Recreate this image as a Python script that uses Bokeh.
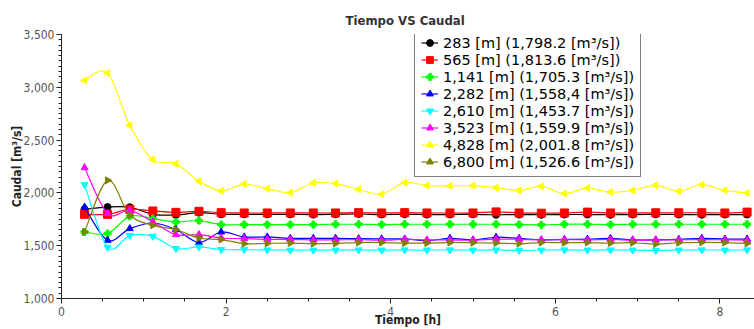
import numpy as np
from bokeh.plotting import figure
from bokeh.models import (Range1d, SingleIntervalTicker, NumeralTickFormatter,
                          Legend, LegendItem)
from bokeh.embed import file_html
from bokeh.resources import INLINE

# ---------------- data ----------------
tiempo_h = [0.28, 0.56, 0.83, 1.11, 1.39, 1.67, 1.94, 2.22, 2.50, 2.78,
            3.06, 3.33, 3.61, 3.89, 4.17, 4.44, 4.72, 5.00, 5.28, 5.56,
            5.83, 6.11, 6.39, 6.67, 6.94, 7.22, 7.50, 7.78, 8.06, 8.33]

caudal_283 = [1845, 1866, 1864, 1797, 1791, 1813, 1797, 1797, 1797, 1797,
              1795, 1797, 1800, 1795, 1797, 1795, 1795, 1797, 1793, 1795,
              1793, 1795, 1795, 1793, 1795, 1797, 1795, 1793, 1795, 1795]
caudal_565 = [1797, 1797, 1845, 1829, 1816, 1826, 1813, 1810, 1810, 1810,
              1810, 1810, 1813, 1810, 1813, 1810, 1810, 1810, 1820, 1810,
              1808, 1810, 1818, 1810, 1810, 1812, 1812, 1812, 1810, 1818]
caudal_1141 = [1630, 1615, 1778, 1757, 1725, 1738, 1700, 1700, 1700, 1700,
               1700, 1703, 1703, 1700, 1703, 1703, 1703, 1703, 1703, 1700,
               1698, 1703, 1703, 1700, 1703, 1703, 1703, 1703, 1703, 1703]
caudal_2282 = [1866, 1551, 1662, 1715, 1653, 1530, 1630, 1583, 1583, 1570,
               1570, 1570, 1567, 1565, 1564, 1548, 1570, 1555, 1580, 1570,
               1555, 1560, 1562, 1570, 1555, 1555, 1560, 1570, 1563, 1563]
caudal_2610 = [2078, 1485, 1596, 1589, 1473, 1488, 1463, 1463, 1460, 1458,
               1458, 1458, 1460, 1458, 1460, 1458, 1460, 1458, 1460, 1456,
               1458, 1460, 1458, 1460, 1458, 1456, 1458, 1460, 1458, 1460]
caudal_3523 = [2239, 1804, 1835, 1725, 1605, 1605, 1573, 1567, 1560, 1560,
               1555, 1555, 1558, 1552, 1560, 1555, 1555, 1552, 1562, 1560,
               1555, 1558, 1555, 1560, 1552, 1555, 1555, 1558, 1555, 1552]
caudal_4828 = [3065, 3134, 2639, 2315, 2277, 2110, 2018, 2084, 2040, 2003,
               2094, 2088, 2034, 1987, 2097, 2069, 2066, 2069, 2050, 2024,
               2062, 1993, 2046, 2008, 2024, 2072, 2015, 2078, 2024, 1999]
caudal_6800 = [1630, 2119, 1788, 1693, 1653, 1573, 1558, 1520, 1522, 1525,
               1520, 1522, 1530, 1530, 1525, 1525, 1530, 1528, 1525, 1520,
               1530, 1528, 1530, 1525, 1528, 1515, 1528, 1532, 1530, 1522]

labels = ["283 [m] (1,798.2 [m³/s])",
          "565 [m] (1,813.6 [m³/s])",
          "1,141 [m] (1,705.3 [m³/s])",
          "2,282 [m] (1,558,4 [m³/s])",
          "2,610 [m] (1,453.7 [m³/s])",
          "3,523 [m] (1,559.9 [m³/s])",
          "4,828 [m] (2,001.8 [m³/s])",
          "6,800 [m] (1,526.6 [m³/s])"]
values = [caudal_283, caudal_565, caudal_1141, caudal_2282,
          caudal_2610, caudal_3523, caudal_4828, caudal_6800]
colors = ["#000000", "#ff0000", "#00ff00", "#0000ff",
          "#00ffff", "#ff00ff", "#ffff00", "#808000"]
markers = ["circle", "square", "plus", "triangle",
           "inverted_triangle", "triangle", "triangle", "triangle"]
angles = [0, 0, 0, 0, 0, 0, np.pi / 2, -np.pi / 2]
sizes = [7, 8, 7, 7, 7, 7, 7, 7]


def smooth_segments(xs, ys):
    """Catmull-Rom curve through the data points, as cubic Bezier segments."""
    x = np.asarray(xs, dtype=float)
    y = np.asarray(ys, dtype=float)
    xp = np.concatenate([[x[0]], x, [x[-1]]])
    yp = np.concatenate([[y[0]], y, [y[-1]]])
    x0, x1, x2, x3 = xp[:-3], xp[1:-2], xp[2:-1], xp[3:]
    y0, y1, y2, y3 = yp[:-3], yp[1:-2], yp[2:-1], yp[3:]
    return dict(x0=x1, y0=y1, x1=x2, y1=y2,
                cx0=x1 + (x2 - x0) / 6, cy0=y1 + (y2 - y0) / 6,
                cx1=x2 - (x3 - x1) / 6, cy1=y2 - (y3 - y1) / 6)


TICK_FONT = "DejaVu Sans Condensed"

p = figure(width=754, height=329, output_backend="svg", toolbar_location=None,
           x_range=Range1d(0, 8.42), y_range=Range1d(1000, 3500),
           min_border_left=61, min_border_right=0, min_border_top=34,
           min_border_bottom=30)

p.title.text = "Tiempo VS Caudal"
p.title.text_font = TICK_FONT
p.title.text_font_size = "13px"
p.title.text_font_style = "bold"
p.title.text_color = "#333333"
p.title.align = "left"
p.title.offset = 284
p.title.standoff = 13

p.outline_line_color = None
p.xgrid.grid_line_color = None
p.ygrid.grid_line_color = None

p.xaxis.ticker = SingleIntervalTicker(interval=2, num_minor_ticks=4)
p.yaxis.ticker = SingleIntervalTicker(interval=500, num_minor_ticks=10)
p.yaxis.formatter = NumeralTickFormatter(format="0,0")
p.xaxis.axis_label = "Tiempo [h]"
p.yaxis.axis_label = "Caudal [m³/s]"

for ax in (p.xaxis, p.yaxis):
    ax.axis_line_color = "#222222"
    ax.major_tick_line_color = "#222222"
    ax.minor_tick_line_color = "#222222"
    ax.major_tick_in = 0
    ax.major_tick_out = 5
    ax.minor_tick_in = 0
    ax.minor_tick_out = 3
    ax.major_label_text_font = TICK_FONT
    ax.major_label_text_font_size = "12px"
    ax.major_label_text_color = "#555555"
    ax.axis_label_text_font = TICK_FONT
    ax.axis_label_text_font_size = "12px"
    ax.axis_label_text_font_style = "bold"
    ax.axis_label_text_color = "#222222"
    ax.major_label_standoff = 2
p.xaxis.major_label_standoff = 3
p.xaxis.axis_label_standoff = -6
p.yaxis.axis_label_standoff = -3

items = []
for lab, vals, col, mk, ang, sz in zip(labels, values, colors, markers, angles, sizes):
    seg = smooth_segments(tiempo_h, vals)
    rl = p.bezier(x0=seg["x0"], y0=seg["y0"], x1=seg["x1"], y1=seg["y1"],
                  cx0=seg["cx0"], cy0=seg["cy0"], cx1=seg["cx1"], cy1=seg["cy1"],
                  line_color=col, line_width=1.2)
    rm = p.scatter(x=tiempo_h, y=vals, marker=mk, angle=ang, size=sz,
                   fill_color=col, line_color=col)
    items.append(LegendItem(label=lab, renderers=[rl, rm]))

legend = Legend(items=items, location=(353, 121),
                label_text_font="DejaVu Sans", label_text_font_size="14.5px",
                label_text_color="#000000",
                label_height=17, glyph_height=17, glyph_width=17,
                label_standoff=5, spacing=0, padding=6, margin=0,
                border_line_color="#000000", border_line_width=1,
                background_fill_color="white", background_fill_alpha=1)
p.add_layout(legend, "center")

open("out.html", "w").write(file_html(p, INLINE))
